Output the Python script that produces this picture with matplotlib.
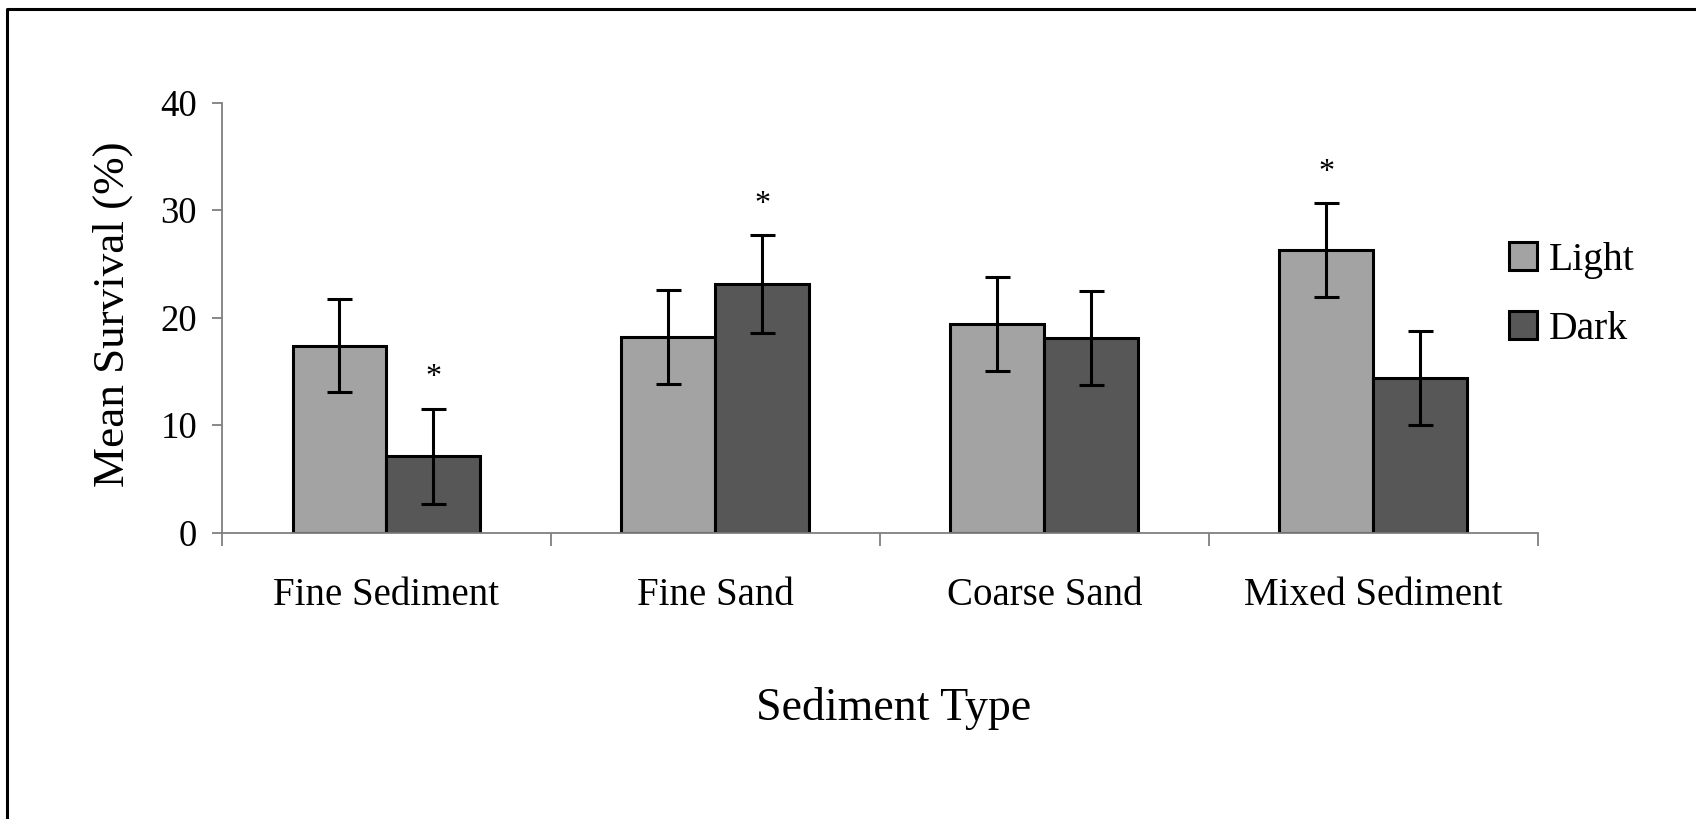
import numpy as np
import matplotlib
matplotlib.use("Agg")
from matplotlib import pyplot as plt
from matplotlib.lines import Line2D

# Mean survival by sediment type, light vs dark treatment
sediments = ["Fine Sediment", "Fine Sand", "Coarse Sand", "Mixed Sediment"]
light = [17.4, 18.2, 19.4, 26.3]
dark = [7.1, 23.1, 18.1, 14.4]
light_err = [4.35, 4.35, 4.35, 4.35]
dark_err = [4.4, 4.55, 4.35, 4.4]
# significant differences: (category index, series)
signif = [(0, "Dark"), (1, "Dark"), (3, "Light")]

plt.rcParams['font.family'] = ['Liberation Serif', 'DejaVu Serif']

fig = plt.figure(figsize=(16.96, 8.19), dpi=100)
ax = fig.add_axes([0.1309, 0.3496, 0.9068 - 0.1309, 0.8746 - 0.3496])

x = np.arange(len(sediments))
w = 1 / 3.5
err_kw = dict(ecolor="black", elinewidth=2.2, capsize=9, capthick=2.2)
ax.bar(x - w / 2, light, w, yerr=light_err, color="#a3a3a3",
       edgecolor="black", linewidth=2.2, label="Light", error_kw=err_kw)
ax.bar(x + w / 2, dark, w, yerr=dark_err, color="#575757",
       edgecolor="black", linewidth=2.2, label="Dark", error_kw=err_kw)

# asterisks above the significant bars
for i, s in signif:
    if s == "Light":
        xs, top = x[i] - w / 2, light[i] + light_err[i]
    else:
        xs, top = x[i] + w / 2, dark[i] + dark_err[i]
    ax.text(xs, top + 2.2, "*", ha="center", va="baseline", fontsize=23)

ax.set_xlim(-0.5, len(sediments) - 0.5)
ax.set_ylim(0, 40)
ax.set_yticks([0, 10, 20, 30, 40])
ax.set_xticks(np.arange(-0.5, len(sediments), 1.0))
ax.set_xticklabels([])
ax.set_xticks(x, minor=True)
ax.set_xticklabels(sediments, minor=True)

for side in ["top", "right"]:
    ax.spines[side].set_visible(False)
for side in ["left", "bottom"]:
    ax.spines[side].set_color("#7f7f7f")
    ax.spines[side].set_linewidth(1.3)
ax.tick_params(axis="y", direction="out", length=7, width=1.3, color="#7f7f7f",
               pad=11, labelsize=26.5)
ax.tick_params(axis="x", which="major", direction="out", length=9, width=1.3,
               color="#7f7f7f")
ax.tick_params(axis="x", which="minor", length=0, pad=32, labelsize=28)

ax.set_ylabel("Mean Survival (%)", fontsize=32.5)
ax.yaxis.set_label_coords(-0.068, 0.507)
fig.text(0.527, 0.1355, "Sediment Type", ha="center", va="center", fontsize=33)

leg = ax.legend(loc="center left", bbox_to_anchor=(0.8897, 0.64), bbox_transform=fig.transFigure,
                frameon=False, fontsize=28.5, handlelength=0.7, handleheight=0.7,
                handletextpad=0.3, labelspacing=0.8, borderaxespad=0, borderpad=0)
for p in leg.get_patches():
    p.set_linewidth(2.2)

# outer frame, only top and left edges fall inside the image
fig.add_artist(Line2D([7 / 1696, 7 / 1696, 1], [0, 1 - 8.5 / 819, 1 - 8.5 / 819],
                      transform=fig.transFigure, color="black", linewidth=2.2))

fig.savefig("out.png", dpi=100)
